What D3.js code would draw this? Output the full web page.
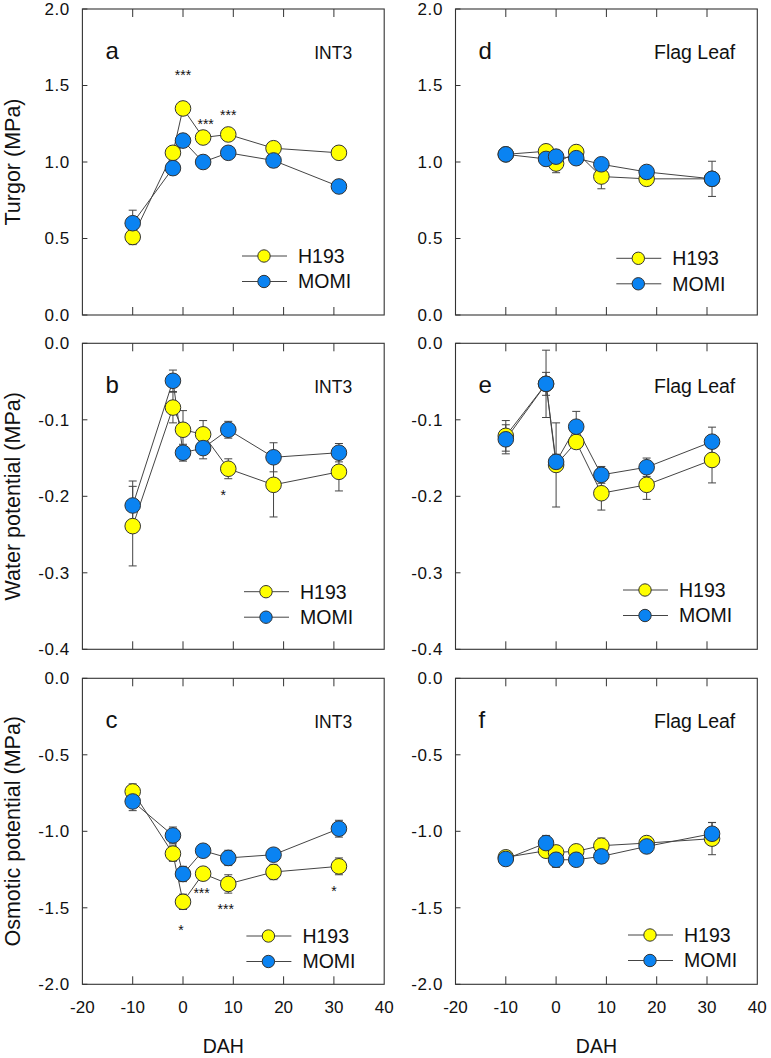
<!DOCTYPE html>
<html>
<head>
<meta charset="utf-8">
<script src="https://cdn.jsdelivr.net/npm/d3@7"></script>
<style>
  html, body { margin: 0; padding: 0; background: #fff; }
  svg { display: block; }
  text { font-family: Arial, "Liberation Sans", Helvetica, sans-serif; fill: #111; }
  .ytitle { font-family: "Liberation Sans Narrow", "Arial Narrow", Arial, sans-serif; font-stretch: condensed; }
</style>
</head>
<body>
<svg id="chart" width="771" height="1058"></svg>
<script>
// ---------------- DATA ----------------
const days = [-10, -2, 0, 4, 9, 18, 31];
const seriesNames = ["H193", "MOMI"];
const xTicks = [-20, -10, 0, 10, 20, 30, 40];

// Turgor (MPa)
const turgorTicks = [0, 0.5, 1.0, 1.5, 2.0];
const turgorInt3H193    = [0.51, 1.06, 1.35, 1.16, 1.18, 1.09, 1.06];
const turgorInt3H193Err = [0.05, 0.03, 0.03, 0.03, 0.03, 0.03, 0.03];
const turgorInt3MOMI    = [0.60, 0.96, 1.14, 1.00, 1.06, 1.01, 0.84];
const turgorInt3MOMIErr = [0.085, 0.03, 0.03, 0.03, 0.03, 0.045, 0.04];
const turgorFlagH193    = [1.05, 1.07, 0.99, 1.065, 0.905, 0.89, 0.89];
const turgorFlagH193Err = [0.03, 0.03, 0.06, 0.03, 0.08, 0.04, 0.03];
const turgorFlagMOMI    = [1.05, 1.02, 1.035, 1.025, 0.985, 0.935, 0.89];
const turgorFlagMOMIErr = [0.035, 0.04, 0.03, 0.03, 0.03, 0.04, 0.115];

// Water potential (MPa)
const waterTicks = [-0.4, -0.3, -0.2, -0.1, 0.0];
const waterInt3H193    = [-0.239, -0.084, -0.113, -0.119, -0.164, -0.185, -0.168];
const waterInt3H193Err = [0.052, 0.02, 0.025, 0.018, 0.013, 0.042, 0.025];
const waterInt3MOMI    = [-0.212, -0.049, -0.143, -0.137, -0.113, -0.149, -0.143];
const waterInt3MOMIErr = [0.032, 0.014, 0.011, 0.014, 0.011, 0.019, 0.012];
const waterFlagH193    = [-0.121, -0.053, -0.159, -0.129, -0.196, -0.185, -0.1525];
const waterFlagH193Err = [0.02, 0.015, 0.055, 0.008, 0.022, 0.019, 0.03];
const waterFlagMOMI    = [-0.1255, -0.053, -0.155, -0.109, -0.172, -0.162, -0.1286];
const waterFlagMOMIErr = [0.019, 0.044, 0.01, 0.02, 0.011, 0.012, 0.019];

// Osmotic potential (MPa)
const osmoticTicks = [-2.0, -1.5, -1.0, -0.5, 0.0];
const osmoticInt3H193    = [-0.74, -1.146, -1.461, -1.277, -1.344, -1.266, -1.229];
const osmoticInt3H193Err = [0.05, 0.05, 0.05, 0.03, 0.06, 0.05, 0.055];
const osmoticInt3MOMI    = [-0.805, -1.027, -1.279, -1.127, -1.174, -1.153, -0.983];
const osmoticInt3MOMIErr = [0.06, 0.055, 0.05, 0.03, 0.05, 0.04, 0.055];
const osmoticFlagH193    = [-1.17, -1.127, -1.138, -1.131, -1.094, -1.077, -1.048];
const osmoticFlagH193Err = [0.03, 0.04, 0.04, 0.03, 0.05, 0.04, 0.105];
const osmoticFlagMOMI    = [-1.181, -1.077, -1.186, -1.186, -1.164, -1.099, -1.016];
const osmoticFlagMOMIErr = [0.04, 0.05, 0.05, 0.03, 0.045, 0.04, 0.074];

// significance marks: [DAH, value, text]
const starsTurgorInt3 = [[0, 1.584, "***"], [4.5, 1.263, "***"], [9, 1.318, "***"]];
const starsWaterInt3 = [[8, -0.196, "*"]];
const starsOsmoticInt3 = [[-0.4, -1.631, "*"], [3.7, -1.392, "***"], [8.5, -1.494, "***"], [30, -1.376, "*"]];

const rowTitles = ["Turgor (MPa)", "Water potential (MPa)", "Osmotic potential (MPa)"];
const panelLetters = ["a", "b", "c", "d", "e", "f"];
const tissueNames = ["INT3", "Flag Leaf"];
const xTitle = "DAH";

// ---------------- LAYOUT ----------------
const colors = { H193: "#ffff00", MOMI: "#0a83f2" };
const colLeft = [82.4, 455.5];
const plotW = 301.8;
const rowTop = [9, 343.3, 678.3];
const plotH = 306;

const rows = [
  { domain: [0, 2], ticks: turgorTicks, fmt: ".1f",
    data: [[turgorInt3H193, turgorInt3H193Err, turgorInt3MOMI, turgorInt3MOMIErr],
           [turgorFlagH193, turgorFlagH193Err, turgorFlagMOMI, turgorFlagMOMIErr]],
    stars: [starsTurgorInt3, []],
    legend: [[181.6, 247], [182.8, 249.3]] },
  { domain: [-0.4, 0], ticks: waterTicks, fmt: ".1f",
    data: [[waterInt3H193, waterInt3H193Err, waterInt3MOMI, waterInt3MOMIErr],
           [waterFlagH193, waterFlagH193Err, waterFlagMOMI, waterFlagMOMIErr]],
    stars: [starsWaterInt3, []],
    legend: [[183.6, 248.4], [189.5, 246.7]] },
  { domain: [-2, 0], ticks: osmoticTicks, fmt: ".1f",
    data: [[osmoticInt3H193, osmoticInt3H193Err, osmoticInt3MOMI, osmoticInt3MOMIErr],
           [osmoticFlagH193, osmoticFlagH193Err, osmoticFlagMOMI, osmoticFlagMOMIErr]],
    stars: [starsOsmoticInt3, []],
    legend: [[186, 257.7], [194.5, 256.7]] }
];
const titleRightOffset = [32, 22];
const titleSize = [17.5, 19.5];

const svg = d3.select("#chart");
const fmtNum = f => (v => d3.format(f)(v).replace("\u2212", "-"));

rows.forEach((row, ri) => {
  [0, 1].forEach(ci => {
    const x0 = colLeft[ci], y0 = rowTop[ri];
    const x = d3.scaleLinear().domain([-20, 40]).range([x0, x0 + plotW]);
    const y = d3.scaleLinear().domain(row.domain).range([y0 + plotH, y0]);
    const g = svg.append("g");
    const fmt = fmtNum(row.fmt);

    // frame
    g.append("rect").attr("x", x0).attr("y", y0).attr("width", plotW).attr("height", plotH)
      .attr("fill", "none").attr("stroke", "#333").attr("stroke-width", 1.1);

    // x ticks (inside, top and bottom)
    xTicks.slice(1, -1).forEach(t => {
      g.append("line").attr("x1", x(t)).attr("x2", x(t)).attr("y1", y0 + plotH).attr("y2", y0 + plotH - 8)
        .attr("stroke", "#333").attr("stroke-width", 1);
      g.append("line").attr("x1", x(t)).attr("x2", x(t)).attr("y1", y0).attr("y2", y0 + 8)
        .attr("stroke", "#333").attr("stroke-width", 1);
    });
    // y ticks (inside, left)
    row.ticks.forEach(t => {
      g.append("line").attr("x1", x0).attr("x2", x0 + 5).attr("y1", y(t)).attr("y2", y(t))
        .attr("stroke", "#333").attr("stroke-width", 1);
      g.append("text").attr("x", x0 - 12.5).attr("y", y(t)).attr("dy", "0.35em")
        .attr("text-anchor", "end").attr("font-size", 17).attr("letter-spacing", 0.6)
        .text(fmt(t));
    });
    // x tick labels on bottom row
    if (ri === 2) {
      xTicks.forEach(t => {
        g.append("text").attr("x", x(t)).attr("y", y0 + plotH + 28.5)
          .attr("text-anchor", "middle").attr("font-size", 17).text(String(t));
      });
      g.append("text").attr("x", x0 + plotW / 2 - 10).attr("y", 1053)
        .attr("text-anchor", "middle").attr("font-size", 19.5).text(xTitle);
    }

    const [hv, he, mv, me] = row.data[ci];
    const series = [
      { name: "H193", vals: hv, errs: he },
      { name: "MOMI", vals: mv, errs: me }
    ];
    // error bars
    series.forEach(s => {
      days.forEach((d, i) => {
        const cx = x(d), lo = y(s.vals[i] - s.errs[i]), hi = y(s.vals[i] + s.errs[i]);
        g.append("line").attr("x1", cx).attr("x2", cx).attr("y1", lo).attr("y2", hi)
          .attr("stroke", "#444").attr("stroke-width", 1);
        [lo, hi].forEach(yy => g.append("line").attr("x1", cx - 4).attr("x2", cx + 4)
          .attr("y1", yy).attr("y2", yy).attr("stroke", "#444").attr("stroke-width", 1));
      });
    });
    // lines
    const line = d3.line().x((d, i) => x(days[i])).y(d => y(d));
    series.forEach(s => {
      g.append("path").attr("d", line(s.vals)).attr("fill", "none")
        .attr("stroke", "#444").attr("stroke-width", 1);
    });
    // markers
    series.forEach(s => {
      g.selectAll(null).data(s.vals).enter().append("circle")
        .attr("cx", (d, i) => x(days[i])).attr("cy", d => y(d)).attr("r", 7.8)
        .attr("fill", colors[s.name]).attr("stroke", "#333").attr("stroke-width", 1);
    });
    // significance stars
    row.stars[ci].forEach(([sx, sy, txt]) => {
      g.append("text").attr("x", x(sx)).attr("y", y(sy) + 7)
        .attr("text-anchor", "middle").attr("font-size", 14).text(txt);
    });
    // panel letter and tissue
    g.append("text").attr("x", x0 + 23).attr("y", y0 + 50).attr("font-size", 24)
      .text(panelLetters[ci * 3 + ri]);
    g.append("text").attr("x", x0 + plotW - titleRightOffset[ci]).attr("y", y0 + 50)
      .attr("text-anchor", "end").attr("font-size", titleSize[ci]).text(tissueNames[ci]);

    // legend
    const [lx, ly] = row.legend[ci];
    seriesNames.forEach((nm, k) => {
      const cx = x0 + lx, cy = y0 + ly + k * 25.5;
      g.append("line").attr("x1", cx - 22).attr("x2", cx + 23).attr("y1", cy).attr("y2", cy)
        .attr("stroke", "#444").attr("stroke-width", 1);
      g.append("circle").attr("cx", cx).attr("cy", cy).attr("r", 6.2)
        .attr("fill", colors[nm]).attr("stroke", "#333").attr("stroke-width", 1);
      g.append("text").attr("x", cx + 34).attr("y", cy).attr("dy", "0.35em")
        .attr("font-size", 19.5).text(nm);
    });
  });

  // row y-axis title
  svg.append("text").attr("class", "ytitle")
    .attr("transform", `translate(20,${rowTop[ri] + plotH / 2}) rotate(-90)`)
    .attr("text-anchor", "middle").attr("font-size", 21.5).text(rowTitles[ri]);
});
</script>
</body>
</html>
